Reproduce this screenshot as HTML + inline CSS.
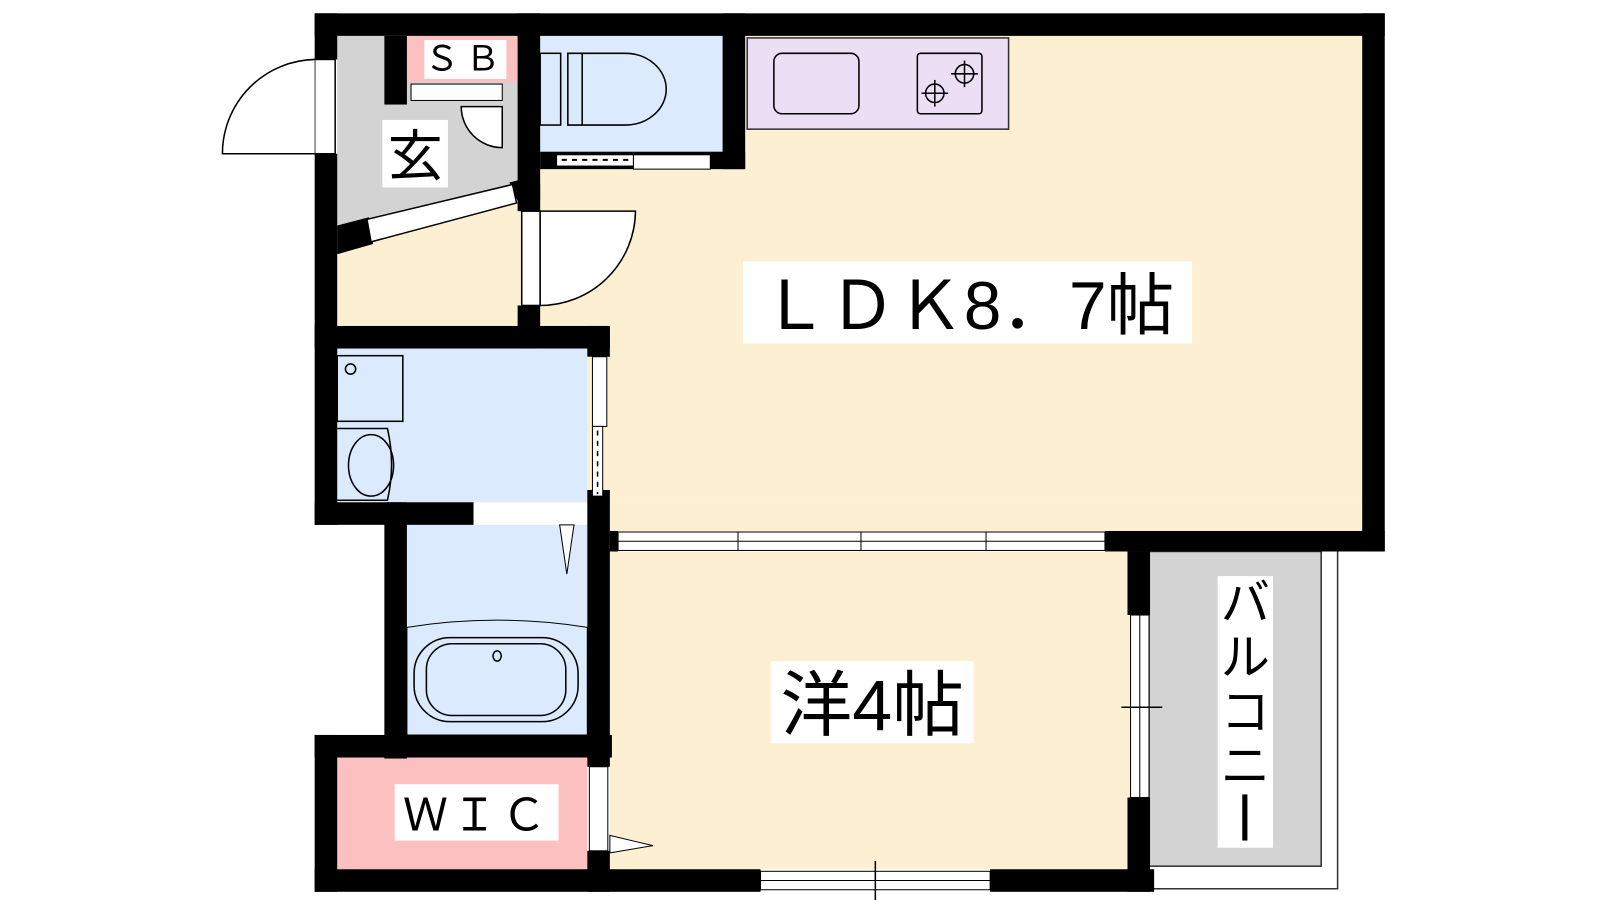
<!DOCTYPE html>
<html><head><meta charset="utf-8"><style>
html,body{margin:0;padding:0;background:#fff;width:1600px;height:900px;overflow:hidden}
svg{display:block}
text{font-family:"Liberation Sans","Noto Sans CJK JP",sans-serif}
</style></head><body>
<svg width="1600" height="900" viewBox="0 0 1561 878" preserveAspectRatio="none" xmlns="http://www.w3.org/2000/svg">
<!-- floors -->
<rect x="329" y="35" width="1000" height="455" fill="#fdf0d2"/>
<rect x="595" y="490" width="734" height="28" fill="#fdf0d2"/>
<rect x="595" y="538" width="508" height="310" fill="#fdf0d2"/>
<polygon points="329,35 505,35 505,180 329,230" fill="#d3d3d3"/>
<rect x="527" y="35" width="178" height="113" fill="#dbebfd"/>
<rect x="329" y="340" width="244" height="150" fill="#dbebfd"/>
<rect x="397" y="512" width="176" height="205" fill="#dbebfd"/>
<rect x="329" y="739" width="244" height="109" fill="#fdc0c0"/>
<rect x="397" y="35" width="110" height="45" fill="#fdc0c0"/>
<rect x="1121" y="538" width="168" height="307" fill="#d3d3d3" stroke="#333" stroke-width="1.5"/>
<polyline points="1305,538 1305,867 1125,867" fill="none" stroke="#333" stroke-width="1.5"/>
<!-- walls -->
<g fill="#000">
<rect x="307" y="13" width="1044" height="22"/>
<rect x="1329" y="13" width="22" height="525"/>
<rect x="1078" y="518" width="273" height="20"/>
<rect x="307" y="13" width="22" height="45"/>
<rect x="307" y="150" width="22" height="362"/>
<rect x="307" y="490" width="155" height="22"/>
<rect x="375" y="490" width="22" height="250"/>
<rect x="307" y="717" width="290" height="22"/>
<rect x="307" y="717" width="22" height="153"/>
<rect x="307" y="848" width="435" height="22"/>
<rect x="966" y="848" width="160" height="22"/>
<rect x="1100" y="538" width="22" height="62"/>
<rect x="1100" y="778" width="22" height="92"/>
<rect x="375" y="35" width="22" height="67"/>
<rect x="505" y="13" width="22" height="193"/>
<rect x="505" y="298" width="22" height="42"/>
<rect x="705" y="13" width="22" height="152"/>
<rect x="527" y="148" width="200" height="17"/>
<rect x="307" y="318" width="288" height="22"/>
<rect x="573" y="318" width="22" height="30"/>
<rect x="573" y="478" width="22" height="270"/>
<rect x="573" y="830" width="22" height="40"/>
<rect x="595" y="518" width="8" height="20"/>
<polygon points="329,220 360,212 364,238 329,248"/>
<polygon points="497,178 505,176 527,180 527,196 505,196"/>
</g>
<!-- entrance door -->
<rect x="307" y="58" width="20" height="92" fill="#fff" stroke="#000" stroke-width="1.5"/>
<path d="M307,58 A92,92 0 0 0 217,150 L307,150" fill="#fff" stroke="#000" stroke-width="1.5"/>
<!-- entrance sliding step -->
<polygon points="358,214 500,180 504,198 362,236" fill="#fff" stroke="#000" stroke-width="1.5"/>
<!-- SB door -->
<rect x="401" y="82" width="89" height="16" fill="#fff" stroke="#000" stroke-width="1"/>
<path d="M450,104 A40,40 0 0 0 490,144 L490,104 Z" fill="#fff" stroke="#000" stroke-width="1.5"/>
<rect x="414" y="39" width="80" height="38" fill="#fff"/>
<text x="454" y="69" font-size="34" text-anchor="middle" letter-spacing="6">ＳＢ</text>
<rect x="373" y="117" width="64" height="66" fill="#fff"/>
<text x="405" y="171" font-size="54" text-anchor="middle">玄</text>
<!-- toilet -->
<rect x="527" y="52" width="20" height="70" fill="none" stroke="#000" stroke-width="1.5"/>
<path d="M554,52 L610,52 A40,35 0 0 1 610,122 L554,122 Z" fill="none" stroke="#000" stroke-width="1.5"/>
<line x1="568" y1="52" x2="568" y2="122" stroke="#000" stroke-width="1.5"/>
<rect x="543" y="151" width="75" height="11" fill="#fff" stroke="#000"/>
<line x1="548" y1="156" x2="615" y2="156" stroke="#000" stroke-width="2" stroke-dasharray="5,5"/>
<rect x="618" y="151" width="75" height="14" fill="#fff" stroke="#000"/>
<!-- kitchen -->
<rect x="729" y="37" width="255" height="89" fill="#ecdef5" stroke="#333" stroke-width="1.5"/>
<rect x="755" y="52" width="83" height="59" rx="8" fill="none" stroke="#000" stroke-width="1.5"/>
<rect x="895" y="52" width="63" height="59" rx="3" fill="none" stroke="#000" stroke-width="1.5"/>
<g stroke="#000" stroke-width="1.5" fill="none">
<circle cx="912" cy="91" r="9"/><line x1="912" y1="78" x2="912" y2="104"/><line x1="899" y1="91" x2="925" y2="91"/>
<circle cx="941" cy="72" r="9"/><line x1="941" y1="59" x2="941" y2="85"/><line x1="928" y1="72" x2="954" y2="72"/>
</g>
<!-- LDK door -->
<rect x="509" y="206" width="18" height="92" fill="#fff" stroke="#000" stroke-width="1.5"/>
<path d="M527,206 L620,206 A93,93 0 0 1 527,298 Z" fill="#fff" stroke="#000" stroke-width="1.5"/>
<!-- LDK label -->
<rect x="725" y="255" width="438" height="80" fill="#fff"/>
<text x="944" y="321" font-size="66" text-anchor="middle">ＬＤＫ8．7帖</text>
<!-- washroom -->
<rect x="329" y="347" width="64" height="64" fill="none" stroke="#000" stroke-width="1.5"/>
<circle cx="342" cy="360" r="5" fill="none" stroke="#000" stroke-width="1.5"/>
<path d="M329,418 L378,418 Q386,453 378,488 L329,488" fill="none" stroke="#000" stroke-width="1.5"/>
<ellipse cx="362" cy="454" rx="22" ry="30" fill="none" stroke="#000" stroke-width="1.5"/>
<rect x="578" y="348" width="14" height="68" fill="#fff" stroke="#000"/>
<rect x="578" y="416" width="10" height="68" fill="#fff" stroke="#000"/>
<line x1="583" y1="420" x2="583" y2="482" stroke="#000" stroke-width="1.5" stroke-dasharray="5,5"/>
<rect x="462" y="492" width="102" height="18" fill="#fff"/>
<!-- bath -->
<polygon points="546,512 560,512 553,560" fill="#fff" stroke="#000"/>
<path d="M397,612 Q485,598 573,612 L573,717 L397,717 Z" fill="#dbebfd" stroke="#000" stroke-width="1"/>
<rect x="404" y="622" width="160" height="82" rx="35" fill="none" stroke="#000" stroke-width="1.5"/>
<rect x="416" y="628" width="136" height="70" rx="25" fill="none" stroke="#000" stroke-width="1.5"/>
<ellipse cx="485" cy="640" rx="4" ry="5" fill="none" stroke="#000" stroke-width="1.5"/>
<!-- LDK/洋 window -->
<rect x="603" y="519" width="475" height="18" fill="#fff" stroke="#000"/>
<line x1="603" y1="528" x2="1078" y2="528" stroke="#000" stroke-width="1"/>
<line x1="840" y1="519" x2="840" y2="537" stroke="#000"/>
<line x1="720" y1="519" x2="720" y2="537" stroke="#000"/>
<line x1="962" y1="519" x2="962" y2="537" stroke="#000"/>
<!-- balcony window -->
<rect x="1103" y="600" width="18" height="178" fill="#fff" stroke="#000"/>
<line x1="1112" y1="600" x2="1112" y2="778" stroke="#000"/>
<line x1="1094" y1="690" x2="1134" y2="690" stroke="#000" stroke-width="1.5"/>
<!-- bottom window -->
<rect x="742" y="850" width="224" height="18" fill="#fff" stroke="#000"/>
<line x1="742" y1="859" x2="966" y2="859" stroke="#000"/>
<line x1="854" y1="840" x2="854" y2="878" stroke="#000" stroke-width="1.5"/>
<!-- WIC door -->
<rect x="575" y="748" width="18" height="82" fill="#fff" stroke="#000"/>
<polygon points="595,815 637,825 595,832" fill="#fff" stroke="#000"/>
<!-- labels -->
<rect x="752" y="645" width="198" height="80" fill="#fff"/>
<text x="851" y="712" font-size="70" text-anchor="middle">洋4帖</text>
<rect x="385" y="765" width="160" height="55" fill="#fff"/>
<text x="465" y="810" font-size="44" text-anchor="middle" letter-spacing="4">ＷＩＣ</text>
<rect x="1188" y="562" width="54" height="265" fill="#fff"/>
<text x="1215" y="605" font-size="48" text-anchor="middle">バ</text>
<text x="1215" y="658" font-size="48" text-anchor="middle">ル</text>
<text x="1215" y="711" font-size="48" text-anchor="middle">コ</text>
<text x="1215" y="764" font-size="48" text-anchor="middle">ニ</text>
<rect x="1212" y="775" width="5" height="45" fill="#000"/>
</svg>
</body></html>
